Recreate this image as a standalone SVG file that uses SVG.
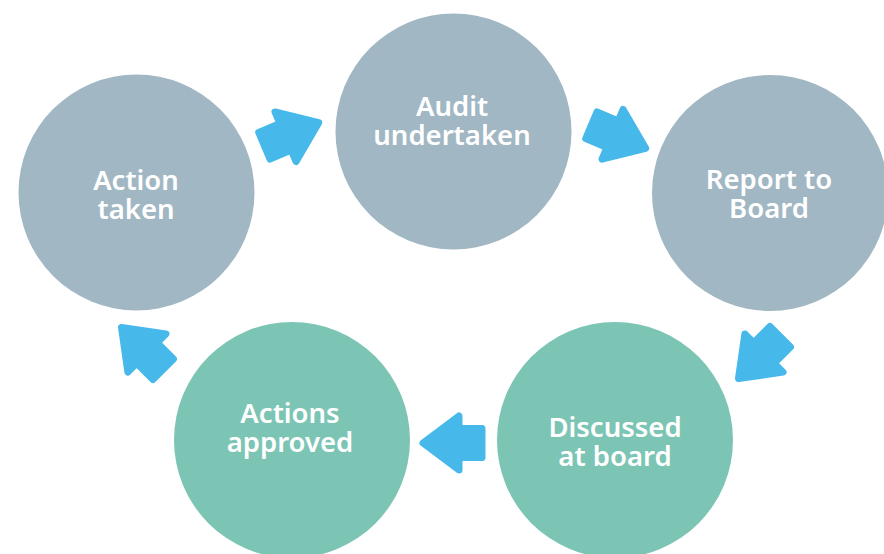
<svg xmlns="http://www.w3.org/2000/svg" width="884" height="554" viewBox="0 0 884 554">
  <style>
    .grey { fill: #a1b7c4; }
    .teal { fill: #7cc5b5; }
    .label { fill: #ffffff; font-family: "Noto Sans", "Open Sans", sans-serif; font-weight: 600; font-size: 27.5px; text-anchor: middle; }
    .arrow { fill: #46b9ea; stroke: #46b9ea; stroke-width: 7; stroke-linejoin: round; }
  </style>
  <defs>
    <!-- block arrow pointing right, centred on the origin -->
    <path id="blockArrow" d="M -30,-14.5 L -7,-14.5 L -7,-27 L 29,0 L -7,27 L -7,14.5 L -30,14.5 Z"/>
  </defs>
  <rect width="884" height="554" fill="#ffffff"/>

  <g id="connectors">
    <use href="#blockArrow" class="arrow" transform="translate(292,134) rotate(-23)"/>
    <use href="#blockArrow" class="arrow" transform="translate(619,137) rotate(23)"/>
    <use href="#blockArrow" class="arrow" transform="translate(759,358) rotate(135)"/>
    <use href="#blockArrow" class="arrow" transform="translate(452,443) rotate(180)"/>
    <use href="#blockArrow" class="arrow" transform="translate(142,348) rotate(-135)"/>
  </g>

  <g id="action-taken">
    <circle class="grey" cx="136.5" cy="192.5" r="118"/>
    <text class="label" x="136" y="190">Action</text>
    <text class="label" x="136" y="219">taken</text>
  </g>
  <g id="audit-undertaken">
    <circle class="grey" cx="453.5" cy="131.5" r="118"/>
    <text class="label" x="452" y="116">Audit</text>
    <text class="label" x="452" y="145">undertaken</text>
  </g>
  <g id="report-to-board">
    <circle class="grey" cx="770" cy="193" r="118"/>
    <text class="label" x="769" y="189">Report to</text>
    <text class="label" x="769" y="218">Board</text>
  </g>
  <g id="discussed-at-board">
    <circle class="teal" cx="615" cy="440" r="118"/>
    <text class="label" x="615" y="437">Discussed</text>
    <text class="label" x="615" y="466">at board</text>
  </g>
  <g id="actions-approved">
    <circle class="teal" cx="292" cy="440" r="118"/>
    <text class="label" x="290" y="423">Actions</text>
    <text class="label" x="290" y="452">approved</text>
  </g>
</svg>
